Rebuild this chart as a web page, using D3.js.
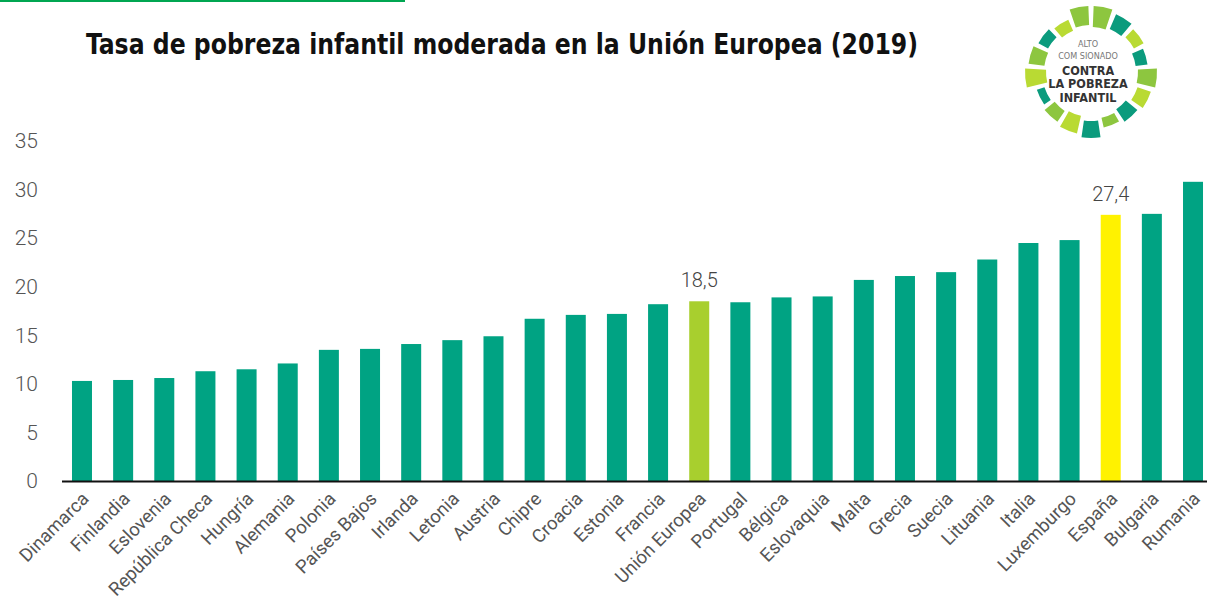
<!DOCTYPE html>
<html>
<head>
<meta charset="utf-8">
<script src="https://cdn.jsdelivr.net/npm/d3@7"></script>
<style>
  body { margin: 0; background: #fff; }
  svg { display: block; }
</style>
</head>
<body>
<script>
// datos: tasa de pobreza infantil moderada (%), 2019
var countries = ["Dinamarca","Finlandia","Eslovenia","República Checa","Hungría","Alemania","Polonia","Países Bajos","Irlanda","Letonia","Austria","Chipre","Croacia","Estonia","Francia","Unión Europea","Portugal","Bélgica","Eslovaquia","Malta","Grecia","Suecia","Lituania","Italia","Luxemburgo","España","Bulgaria","Rumania"];
var rates = [10.3,10.4,10.6,11.3,11.5,12.1,13.5,13.6,14.1,14.5,14.9,16.7,17.1,17.2,18.2,18.5,18.4,18.9,19.0,20.7,21.1,21.5,22.8,24.5,24.8,27.4,27.5,30.8];
var yTicks = [0,5,10,15,20,25,30,35];
var highlights = {"Unión Europea": "#a8cf2e", "España": "#fff200"};
var labelled = ["Unión Europea","España"];

// logo ring segments (colour per segment)
var ringColors = ["#8dc63f","#0b9b7d","#b9da33","#0b9b7d","#8dc63f","#b9da33","#0b9b7d","#8dc63f","#0b9b7d","#b9da33","#8dc63f","#0b9b7d","#b9da33","#8dc63f","#0b9b7d","#b9da33","#8dc63f"];

var W = 1207, H = 616;
var svg = d3.select("body").append("svg")
  .attr("width", W)
  .attr("height", H);

// thin green strip at the very top
svg.append("rect").attr("x", 0).attr("y", 0).attr("width", 405).attr("height", 2).attr("fill", "#00a651");

svg.append("text")
  .attr("x", 86).attr("y", 54)
  .attr("font-family", "DejaVu Sans Condensed, DejaVu Sans, sans-serif")
  .attr("font-weight", "bold")
  .attr("font-size", 28)
  .attr("fill", "#111")
  .attr("textLength", 832)
  .attr("lengthAdjust", "spacingAndGlyphs")
  .text("Tasa de pobreza infantil moderada en la Unión Europea (2019)");

var x = d3.scaleBand()
  .domain(countries)
  .range([61.7, 1213.3])
  .paddingInner(0.514)
  .paddingOuter(0.25);

var y = d3.scaleLinear()
  .domain([0, 35])
  .range([481, 141]);

// y tick labels (no axis line)
var yAxis = svg.append("g")
  .attr("transform", "translate(38,0)")
  .call(d3.axisLeft(y).tickValues(yTicks).tickSize(0).tickPadding(0));
yAxis.select(".domain").remove();
yAxis.selectAll("text")
  .attr("font-family", "Roboto, sans-serif")
  .attr("font-weight", 300)
  .attr("font-size", 21)
  .attr("fill", "#555");

svg.append("g").selectAll("rect")
  .data(countries)
  .enter()
  .append("rect")
  .attr("x", function(d){ return x(d); })
  .attr("y", function(d, i){ return y(rates[i]); })
  .attr("width", x.bandwidth())
  .attr("height", function(d, i){ return y(0) - y(rates[i]); })
  .attr("fill", function(d){ return highlights[d] || "#00a383"; });

// baseline
svg.append("line")
  .attr("x1", 62).attr("x2", W)
  .attr("y1", y(0) + 0.5).attr("y2", y(0) + 0.5)
  .attr("stroke", "#111").attr("stroke-width", 2);

// value labels
svg.append("g").selectAll("text")
  .data(labelled)
  .enter()
  .append("text")
  .attr("x", function(d){ return x(d) + x.bandwidth() / 2; })
  .attr("y", function(d){ return y(rates[countries.indexOf(d)]) - 14; })
  .attr("text-anchor", "middle")
  .attr("font-family", "Roboto, sans-serif")
  .attr("font-weight", 300)
  .attr("font-size", 20)
  .attr("fill", "#444")
  .text(function(d){ return String(rates[countries.indexOf(d)]).replace(".", ","); });

// x labels rotated
svg.append("g").selectAll("text")
  .data(countries)
  .enter()
  .append("text")
  .attr("transform", function(d){
    return "translate(" + (x(d) + x.bandwidth() / 2 + 8) + "," + 500 + ") rotate(-45)";
  })
  .attr("text-anchor", "end")
  .attr("font-family", "Roboto, sans-serif")
  .attr("font-size", 18.5)
  .attr("fill", "#555")
  .text(function(d){ return d; });

// logo
var logo = svg.append("g").attr("transform", "translate(1091,72)");
var step = 2 * Math.PI / ringColors.length;
var arc = d3.arc();
logo.selectAll("path")
  .data(ringColors)
  .enter()
  .append("path")
  .attr("d", function(d, i){
    return arc({
      innerRadius: 45 + (i % 3) * 2,
      outerRadius: 66 - (i % 4) * 3,
      startAngle: i * step + 0.04,
      endAngle: (i + 1) * step - 0.04
    });
  })
  .attr("fill", function(d){ return d; });

var logoLines = [
  {t: "ALTO", dy: -25, size: 9, w: 400, c: "#777"},
  {t: "COM SIONADO", dy: -13, size: 9, w: 400, c: "#777"},
  {t: "CONTRA", dy: 3, size: 12.5, w: 700, c: "#333"},
  {t: "LA POBREZA", dy: 16, size: 12.5, w: 700, c: "#333"},
  {t: "INFANTIL", dy: 30, size: 12.5, w: 700, c: "#333"}
];
logo.selectAll("text")
  .data(logoLines)
  .enter()
  .append("text")
  .attr("x", -3)
  .attr("y", function(d){ return d.dy; })
  .attr("text-anchor", "middle")
  .attr("font-family", "DejaVu Sans Condensed, sans-serif")
  .attr("font-size", function(d){ return d.size; })
  .attr("font-weight", function(d){ return d.w; })
  .attr("fill", function(d){ return d.c; })
  .text(function(d){ return d.t; });
</script>
</body>
</html>
